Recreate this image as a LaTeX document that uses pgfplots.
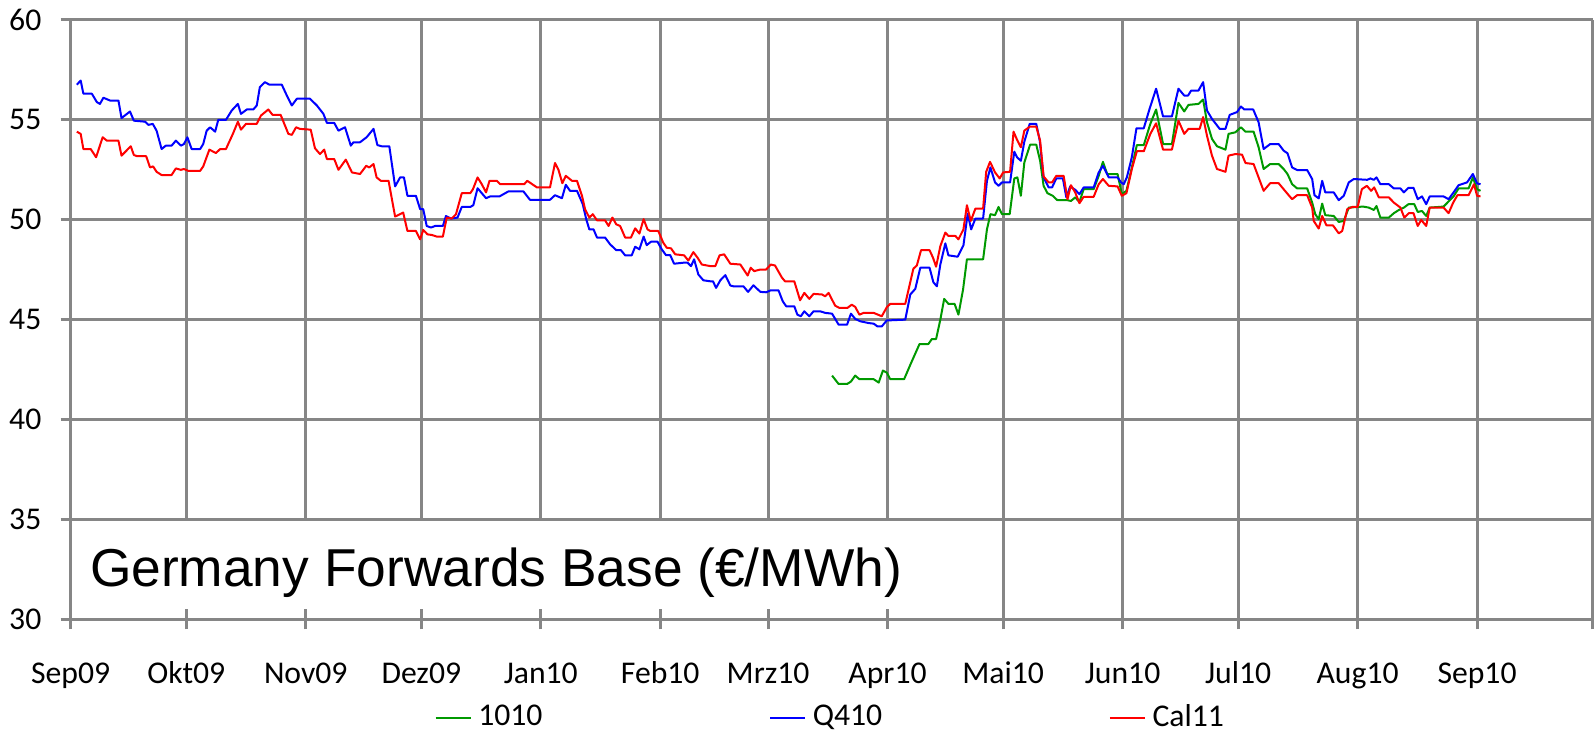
\documentclass[border=0pt]{standalone}
\usepackage{fontspec}
\setmainfont{Carlito}
\newfontfamily\arialfont{Liberation Sans}
\usepackage{pgfplots}
\pgfplotsset{compat=1.18}
\definecolor{gridgray}{RGB}{134,134,134}
\definecolor{xlgreen}{RGB}{0,153,0}
\begin{document}
\begin{tikzpicture}
\begin{axis}[
  scale only axis, width=456.6pt, height=179.8pt,
  xmin=0, xmax=395, ymin=30, ymax=60,
  axis x line=bottom, axis y line=left,
  axis line style={draw=gridgray, line width=0.9pt, -},
  xtick={0,30,61,91,122,153,181,212,242,273,303,334,365,395},
  xticklabels={Sep09,Okt09,Nov09,Dez09,Jan10,Feb10,Mrz10,Apr10,Mai10,Jun10,Jul10,Aug10,Sep10,},
  ytick={30,35,40,45,50,55,60},
  grid=major,
  major grid style={draw=gridgray, line width=0.9pt},
  tick style={draw=gridgray, line width=0.9pt},
  tick align=center, major tick length=6pt,
  tick label style={font=\fontsize{9.5}{11}\selectfont, text=black},
  /pgf/number format/assume math mode=true,
  yticklabel style={anchor=east, inner sep=0pt, xshift=-5.6pt},
  xticklabel style={anchor=base, inner sep=0pt, yshift=-16.4pt},
  legend style={at={(axis description cs:0.2387,-0.164)}, anchor=west, draw=none, fill=none,
    inner sep=0pt, font=\fontsize{9.5}{11}\selectfont, nodes={inner sep=0pt},
    /tikz/every even column/.append style={column sep=68pt},
    /tikz/every odd column/.append style={column sep=2pt}},
  legend columns=3,
  legend image code/.code={\draw[#1] (0pt,0pt) -- (10.5pt,0pt);},
]
\coordinate (SW) at (rel axis cs:0,0);
\coordinate (NE) at (rel axis cs:1,1);
\fill[white] (axis cs:0.6,30.52) rectangle (axis cs:225,34.92);

\addplot[color=xlgreen, line width=0.6pt, line join=round] coordinates {
(197.6,42.20)(199.3,41.78)(201.5,41.78)(202.5,41.90)(203.6,42.20)(204.7,42.02)(208.4,42.02)(209.7,41.85)(210.8,42.45)(211.8,42.35)(212.7,42.02)(216.3,42.02)(217.9,42.74)(220.3,43.78)(222.6,43.78)(223.5,44.03)(224.6,44.03)(225.7,45.00)(226.7,46.04)(227.8,45.79)(229.4,45.79)(230.4,45.25)(231.6,46.51)(232.6,48.02)(236.8,48.02)(237.8,49.52)(238.7,50.28)(239.9,50.23)(240.8,50.64)(241.7,50.28)(243.7,50.28)(244.9,52.07)(245.7,52.12)(246.6,51.20)(247.5,52.87)(249.0,53.76)(250.6,53.76)(251.6,52.95)(252.5,51.70)(253.5,51.33)(254.9,51.20)(256.0,50.99)(258.7,50.98)(259.6,50.94)(260.7,51.12)(261.8,50.89)(262.9,51.53)(265.5,51.53)(266.8,52.20)(267.9,52.90)(269.0,52.29)(271.7,52.29)(272.8,51.28)(274.0,51.45)(275.4,52.62)(276.7,53.74)(278.5,53.74)(280.2,54.80)(281.7,55.52)(283.5,53.79)(285.8,53.79)(287.5,55.85)(289.0,55.42)(290.1,55.75)(292.7,55.80)(293.9,56.02)(294.9,54.88)(296.2,54.05)(297.5,53.68)(299.7,53.51)(300.5,54.30)(302.3,54.38)(303.7,54.63)(304.9,54.41)(307.0,54.41)(308.3,53.63)(309.6,52.54)(311.3,52.79)(313.5,52.79)(314.8,52.54)(315.8,52.29)(317.0,51.78)(318.3,51.57)(320.9,51.57)(322.2,50.86)(323.0,50.28)(323.9,50.03)(324.8,50.81)(325.6,50.23)(327.8,50.19)(329.1,49.89)(330.4,49.94)(331.7,50.61)(335.4,50.66)(336.9,50.61)(338.2,50.49)(338.9,50.69)(339.9,50.11)(342.1,50.11)(343.4,50.33)(344.7,50.49)(346.0,50.61)(347.2,50.78)(348.7,50.78)(349.6,50.39)(350.7,50.44)(351.8,50.19)(352.7,50.61)(356.3,50.66)(358.9,51.17)(360.2,51.57)(362.8,51.57)(363.9,52.12)(365.0,51.53)(365.9,51.45)
};
\addlegendentry{1010}

\addplot[color=blue, line width=0.6pt, line join=round] coordinates {
(1.6,56.76)(2.6,56.97)(3.3,56.31)(5.5,56.31)(6.8,55.89)(7.6,55.80)(8.5,56.11)(10.2,55.97)(12.4,55.97)(13.2,55.09)(15.4,55.42)(16.4,54.96)(19.3,54.91)(20.2,54.75)(21.3,54.80)(22.3,54.46)(23.6,53.54)(24.7,53.71)(26.2,53.71)(27.3,53.96)(28.6,53.71)(29.4,53.79)(30.3,54.13)(31.4,53.54)(33.6,53.54)(34.4,53.79)(35.3,54.46)(36.2,54.63)(37.5,54.41)(38.3,55.00)(40.3,55.00)(41.8,55.47)(43.4,55.80)(44.2,55.30)(45.7,55.52)(47.4,55.52)(48.3,55.72)(49.1,56.64)(50.4,56.89)(51.6,56.76)(54.8,56.76)(56.1,56.22)(57.4,55.72)(58.7,56.06)(62.1,56.06)(63.9,55.72)(65.6,55.30)(66.5,54.85)(68.4,54.85)(69.5,54.46)(71.2,54.63)(72.7,53.71)(73.4,53.88)(75.1,53.88)(76.8,54.13)(78.6,54.55)(79.6,53.74)(80.7,53.68)(82.7,53.68)(84.2,51.67)(85.5,52.12)(86.5,52.12)(87.4,51.20)(89.6,51.20)(90.7,50.53)(91.5,50.53)(92.4,49.69)(93.5,49.61)(94.6,49.69)(96.6,49.69)(97.4,50.19)(98.7,50.06)(100.4,50.11)(101.5,50.64)(103.7,50.64)(104.5,50.73)(105.6,51.58)(107.8,51.08)(108.9,51.17)(111.3,51.17)(113.6,51.42)(117.5,51.42)(119.2,51.00)(124.4,51.00)(125.7,51.23)(127.5,51.08)(128.5,51.75)(129.6,51.45)(131.4,51.45)(132.9,50.78)(133.8,50.03)(134.6,49.52)(135.7,49.52)(136.6,49.11)(138.7,49.11)(140.0,48.77)(141.6,48.48)(142.8,48.48)(143.9,48.22)(145.6,48.22)(146.5,48.65)(147.6,48.52)(148.7,49.16)(149.5,48.73)(150.6,48.90)(152.3,48.90)(153.4,48.52)(154.5,48.23)(155.6,48.23)(156.6,47.80)(159.0,47.85)(160.1,47.85)(161.0,47.68)(161.8,48.02)(162.9,47.26)(164.2,46.97)(166.0,46.92)(166.7,46.92)(167.5,46.59)(168.6,46.97)(169.9,47.23)(171.2,46.71)(172.0,46.67)(174.6,46.67)(175.8,46.39)(177.2,46.72)(179.0,46.39)(180.5,46.37)(181.7,46.47)(183.7,46.47)(184.8,45.92)(185.7,45.67)(187.8,45.67)(188.6,45.25)(189.5,45.17)(190.4,45.42)(191.7,45.17)(192.8,45.42)(194.5,45.42)(195.8,45.34)(197.6,45.30)(199.3,44.75)(201.5,44.75)(202.5,45.30)(203.6,45.04)(204.9,44.92)(207.1,44.83)(208.4,44.80)(209.4,44.66)(210.5,44.66)(211.8,44.96)(216.6,45.00)(217.9,46.26)(219.2,46.54)(220.5,47.60)(222.9,47.60)(223.9,46.87)(224.8,46.67)(225.7,47.76)(227.0,48.82)(227.8,48.22)(230.2,48.15)(231.7,48.72)(232.8,50.31)(233.7,49.52)(234.8,50.06)(236.8,50.06)(237.8,51.95)(238.7,52.62)(239.9,51.87)(240.8,51.70)(241.7,51.87)(243.8,51.87)(244.9,53.41)(245.6,53.13)(246.6,52.95)(247.5,53.91)(248.9,54.80)(250.6,54.80)(251.5,53.96)(252.5,52.12)(253.8,51.62)(254.7,51.62)(255.8,52.07)(257.5,52.07)(258.4,51.12)(259.4,51.67)(260.7,51.50)(261.8,51.28)(262.9,51.62)(265.5,51.62)(266.8,52.37)(267.9,52.70)(269.4,52.12)(271.7,52.12)(272.6,51.87)(273.3,51.78)(274.1,52.12)(275.4,53.13)(276.6,54.58)(278.5,54.58)(280.0,55.55)(281.7,56.56)(283.5,55.17)(285.8,55.17)(287.5,56.56)(289.0,56.22)(290.0,56.22)(290.8,56.47)(292.7,56.47)(293.9,56.89)(294.9,55.47)(296.2,55.05)(298.2,54.55)(299.7,54.55)(300.8,55.25)(302.7,55.39)(303.7,55.67)(304.6,55.52)(306.9,55.52)(308.3,54.88)(309.6,53.54)(311.3,53.79)(313.5,53.79)(314.8,53.46)(315.8,53.33)(317.0,52.62)(318.3,52.49)(320.9,52.49)(322.2,52.04)(322.8,51.23)(323.9,51.07)(324.8,51.95)(325.6,51.37)(327.8,51.37)(329.1,50.98)(330.4,51.20)(331.7,51.87)(333.0,52.04)(336.5,52.00)(337.3,52.07)(338.2,52.00)(338.9,52.12)(339.9,51.78)(342.1,51.78)(343.4,51.57)(345.1,51.57)(346.0,51.37)(347.2,51.60)(348.5,51.60)(349.6,51.03)(350.7,51.17)(351.8,50.78)(352.7,51.17)(356.3,51.17)(357.6,51.03)(358.9,51.37)(360.2,51.73)(362.4,51.87)(363.9,52.29)(365.0,51.82)(365.9,51.78)
};
\addlegendentry{Q410}

\addplot[color=red, line width=0.6pt, line join=round] coordinates {
(1.6,54.41)(2.6,54.30)(3.3,53.54)(5.2,53.54)(6.6,53.13)(8.3,54.13)(9.4,53.96)(12.4,53.96)(13.2,53.21)(15.6,53.68)(16.4,53.24)(17.3,53.18)(19.6,53.18)(20.6,52.62)(21.4,52.67)(22.3,52.40)(23.6,52.24)(26.2,52.24)(27.3,52.57)(28.6,52.50)(29.4,52.54)(30.5,52.45)(33.6,52.45)(34.4,52.67)(36.0,53.51)(37.7,53.34)(38.8,53.54)(40.3,53.54)(42.1,54.30)(43.4,54.91)(44.2,54.51)(45.5,54.80)(48.3,54.80)(49.4,55.22)(51.3,55.52)(52.4,55.25)(54.5,55.25)(56.5,54.30)(57.4,54.25)(58.5,54.63)(59.5,54.55)(62.3,54.51)(63.4,53.58)(64.7,53.29)(65.8,53.51)(66.5,53.04)(68.4,53.04)(69.5,52.50)(71.4,53.01)(73.0,52.37)(75.1,52.29)(76.7,52.70)(77.5,52.62)(78.6,52.79)(79.4,52.12)(80.5,51.95)(82.5,51.95)(84.2,50.16)(86.3,50.36)(87.4,49.44)(89.6,49.44)(90.7,49.02)(91.5,49.49)(92.6,49.27)(93.7,49.24)(95.0,49.16)(96.6,49.16)(97.6,50.11)(98.9,50.06)(100.0,50.28)(101.5,51.33)(103.7,51.33)(104.4,51.53)(105.6,52.12)(106.7,51.78)(107.8,51.37)(108.7,51.95)(110.6,51.95)(111.5,51.78)(117.7,51.78)(118.5,51.95)(121.0,51.62)(124.4,51.62)(125.7,52.84)(126.6,52.50)(127.6,51.83)(128.5,52.20)(130.1,51.95)(131.4,51.95)(132.7,51.20)(133.5,50.53)(134.6,50.11)(135.5,50.28)(136.6,49.97)(138.7,49.97)(139.6,49.69)(140.6,50.11)(141.6,49.77)(142.6,49.69)(143.9,49.11)(145.4,49.11)(146.5,49.57)(147.6,49.31)(148.7,50.03)(149.7,49.52)(150.4,49.44)(152.5,49.44)(153.8,48.85)(154.7,48.60)(155.8,48.57)(156.9,48.27)(159.2,48.22)(160.3,47.96)(161.6,48.38)(162.7,48.10)(163.8,47.76)(166.0,47.68)(167.3,47.68)(168.4,48.22)(169.6,48.27)(171.2,47.80)(173.8,47.76)(175.7,47.21)(176.5,47.60)(177.4,47.43)(179.0,47.51)(180.5,47.51)(181.7,47.76)(182.8,47.71)(184.6,47.10)(185.4,46.92)(187.8,46.92)(189.3,45.97)(190.4,46.34)(191.7,46.04)(192.8,46.29)(195.0,46.26)(195.8,46.17)(196.7,46.34)(198.4,45.70)(199.5,45.59)(201.6,45.59)(202.7,45.75)(203.6,45.64)(204.7,45.25)(205.8,45.34)(208.4,45.34)(210.5,45.17)(211.8,45.62)(212.7,45.79)(216.6,45.79)(218.7,47.55)(219.6,47.71)(220.7,48.48)(222.9,48.48)(223.8,48.10)(224.6,47.65)(225.7,48.68)(227.0,49.36)(227.8,49.19)(229.6,49.19)(230.4,49.02)(231.7,49.52)(232.6,50.73)(233.6,49.94)(234.8,50.56)(236.8,50.56)(237.6,52.40)(238.6,52.90)(239.9,52.37)(241.1,52.07)(242.0,52.37)(243.8,52.40)(244.7,54.41)(245.6,54.01)(246.6,53.63)(247.5,54.46)(248.9,54.66)(250.6,54.66)(251.6,53.96)(252.5,52.17)(253.8,51.87)(254.7,51.87)(255.8,52.20)(257.7,52.20)(258.7,51.03)(259.6,51.73)(260.7,51.37)(261.8,50.83)(262.9,51.15)(265.5,51.15)(266.8,51.78)(267.9,52.04)(269.4,51.70)(271.7,51.67)(272.8,51.20)(274.0,51.33)(275.4,52.54)(276.7,53.43)(278.5,53.43)(280.2,54.30)(281.7,54.83)(283.5,53.51)(285.8,53.51)(287.5,54.96)(289.0,54.30)(290.1,54.55)(293.0,54.55)(293.9,55.14)(294.9,54.21)(296.2,53.21)(297.5,52.54)(299.7,52.40)(300.5,53.21)(302.3,53.29)(304.0,53.26)(304.9,52.84)(307.0,52.79)(308.3,52.12)(309.6,51.45)(311.3,51.83)(313.5,51.83)(314.8,51.53)(316.1,51.23)(317.0,51.03)(318.3,51.23)(320.9,51.23)(322.2,50.61)(322.6,49.94)(323.9,49.56)(324.8,50.19)(325.9,49.72)(327.6,49.72)(329.1,49.32)(330.0,49.44)(331.3,50.53)(332.6,50.64)(334.0,50.64)(335.1,51.53)(336.4,51.70)(337.5,51.45)(338.3,51.62)(339.5,51.12)(342.1,51.12)(343.4,50.86)(345.1,50.61)(346.1,50.11)(347.3,50.33)(348.5,50.33)(349.6,49.69)(350.5,49.99)(351.8,49.69)(352.7,50.61)(356.3,50.61)(357.6,50.33)(358.8,50.86)(359.9,51.23)(362.8,51.23)(364.2,51.78)(365.0,51.20)(365.9,51.17)
};
\addlegendentry{Cal11}
\end{axis}
\node[anchor=base west, inner sep=0pt, font=\arialfont\fontsize{16}{19}\selectfont] at ([xshift=5.6pt,yshift=9.8pt]SW) {Germany Forwards Base (€/MWh)};
\pgfresetboundingbox
\path[use as bounding box] ([shift={(-21.2pt,-35.3pt)}]SW) rectangle ([shift={(0.7pt,6pt)}]NE);
\end{tikzpicture}
\end{document}
